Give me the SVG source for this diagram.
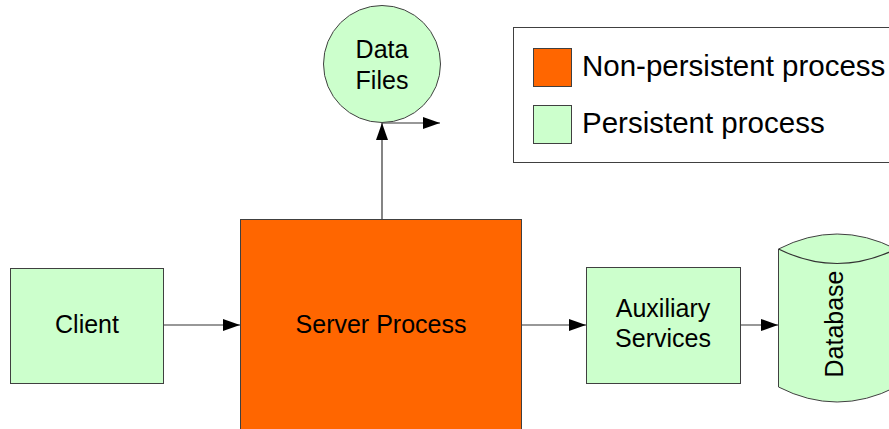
<svg xmlns="http://www.w3.org/2000/svg" width="889" height="429" viewBox="0 0 889 429">
<defs>
<marker id="ah" markerWidth="17" markerHeight="12" refX="17" refY="6" orient="auto" markerUnits="userSpaceOnUse">
<path d="M0,0 L17,6 L0,12 Z" fill="#000"/>
</marker>
<style>
.np{fill:#FF6600;stroke:#404040;stroke-width:1}
.p{fill:#CCFFCC;stroke:#404040;stroke-width:1}
.t{font-family:"Liberation Sans",Arial,sans-serif;font-size:25px;fill:#000;text-anchor:middle}
.lt{font-family:"Liberation Sans",Arial,sans-serif;font-size:29.5px;fill:#000}
.c{stroke:#333;stroke-width:1.2;fill:none}
</style>
</defs>
<rect width="889" height="429" fill="#fff"/>
<g id="legend">
<rect x="513.5" y="27.5" width="390" height="135" fill="#fff" stroke="#404040"/>
<rect class="np" x="533.5" y="48.5" width="38" height="38"/>
<rect class="p" x="533.5" y="105.5" width="38" height="38"/>
<text class="lt" x="582" y="76">Non-persistent process</text>
<text class="lt" x="582" y="133">Persistent process</text>
</g>
<g id="connectors">
<line class="c" x1="163" y1="325" x2="240" y2="325" marker-end="url(#ah)"/>
<line class="c" x1="521" y1="325" x2="586" y2="325" marker-end="url(#ah)"/>
<line class="c" x1="740" y1="325" x2="778" y2="325" marker-end="url(#ah)"/>
<line class="c" x1="382" y1="219" x2="382" y2="123" marker-end="url(#ah)"/>
<line class="c" x1="382" y1="123" x2="440" y2="123" stroke="#555" marker-end="url(#ah)"/>
</g>
<g id="datafiles">
<circle class="p" cx="382" cy="64" r="58.5"/>
<text class="t" x="382" y="58">Data</text>
<text class="t" x="382" y="89">Files</text>
</g>
<g id="server">
<rect class="np" x="240.5" y="219.5" width="281" height="220"/>
<text class="t" x="381" y="333">Server Process</text>
</g>
<g id="client">
<rect class="p" x="10.5" y="268.5" width="153" height="115"/>
<text class="t" x="87" y="333">Client</text>
</g>
<g id="auxiliary">
<rect class="p" x="586.5" y="267.5" width="154" height="116"/>
<text class="t" x="663" y="317">Auxiliary</text>
<text class="t" x="663" y="347">Services</text>
</g>
<g id="database">
<path class="p" d="M778.5,249 Q837,219 896,249 L896,387 Q837,417 778.5,387 Z"/>
<path class="c" d="M778.5,249 Q837,278 896,249" stroke="#404040" stroke-width="1"/>
<text class="t" transform="translate(843,324) rotate(-90)">Database</text>
</g>
</svg>
